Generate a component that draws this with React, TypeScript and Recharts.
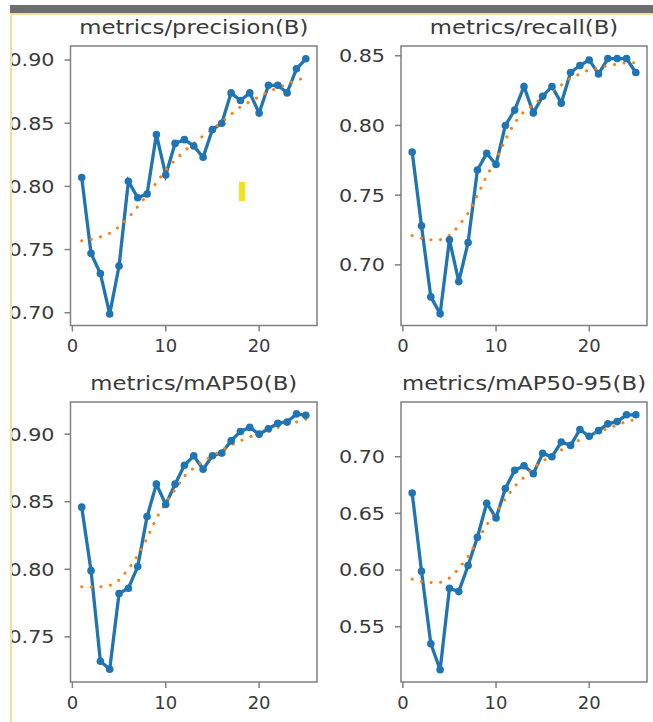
import React from 'react';
import { LineChart, Line, XAxis, YAxis, ReferenceArea } from 'recharts';

const epochs = [1, 2, 3, 4, 5, 6, 7, 8, 9, 10, 11, 12, 13, 14, 15, 16, 17, 18, 19, 20, 21, 22, 23, 24, 25];

const precision = [0.807, 0.747, 0.731, 0.699, 0.737, 0.804, 0.791, 0.794, 0.841, 0.809, 0.834, 0.837, 0.832, 0.823, 0.845, 0.85, 0.874, 0.868, 0.874, 0.858, 0.88, 0.88, 0.874, 0.893, 0.901];
const precisionSmooth = [0.757, 0.758, 0.76, 0.763, 0.768, 0.775, 0.784, 0.793, 0.803, 0.813, 0.821, 0.828, 0.834, 0.84, 0.845, 0.851, 0.857, 0.863, 0.867, 0.871, 0.875, 0.878, 0.881, 0.884, 0.886];

const recall = [0.781, 0.728, 0.677, 0.665, 0.718, 0.688, 0.716, 0.768, 0.78, 0.772, 0.8, 0.811, 0.828, 0.809, 0.821, 0.828, 0.816, 0.838, 0.843, 0.847, 0.837, 0.848, 0.848, 0.848, 0.838];
const recallSmooth = [0.721, 0.719, 0.718, 0.718, 0.721, 0.728, 0.737, 0.75, 0.764, 0.775, 0.79, 0.802, 0.81, 0.815, 0.82, 0.825, 0.829, 0.834, 0.837, 0.84, 0.841, 0.843, 0.844, 0.845, 0.845];

const map50 = [0.846, 0.799, 0.732, 0.726, 0.782, 0.786, 0.802, 0.839, 0.863, 0.848, 0.863, 0.877, 0.884, 0.874, 0.884, 0.886, 0.895, 0.902, 0.905, 0.9, 0.904, 0.908, 0.909, 0.915, 0.914];
const map50Smooth = [0.787, 0.787, 0.787, 0.788, 0.792, 0.8, 0.81, 0.823, 0.838, 0.849, 0.859, 0.869, 0.875, 0.88, 0.884, 0.888, 0.892, 0.895, 0.898, 0.9, 0.902, 0.905, 0.907, 0.909, 0.911];

const map5095 = [0.668, 0.599, 0.535, 0.512, 0.584, 0.581, 0.604, 0.629, 0.659, 0.646, 0.672, 0.688, 0.692, 0.685, 0.703, 0.7, 0.713, 0.71, 0.724, 0.718, 0.723, 0.729, 0.731, 0.737, 0.737];
const map5095Smooth = [0.592, 0.59, 0.589, 0.589, 0.593, 0.601, 0.612, 0.626, 0.64, 0.651, 0.663, 0.674, 0.682, 0.69, 0.696, 0.701, 0.706, 0.711, 0.715, 0.719, 0.722, 0.725, 0.728, 0.731, 0.733];

const xTicks = [0, 10, 20];

const FONT = "'DejaVu Sans', sans-serif";
const TEXT = '#3a3a3a';
const FRAME = '#808080';
const X_DOMAIN: [number, number] = [-0.2, 26.2];

// y labels in the screenshot are a bit stretched sideways
const YTick = ({ x, y, payload }: any) => (
  <g transform={`translate(${x},${y})`}>
    <text transform="scale(1.15 1)" textAnchor="end" dy="0.355em" fontSize={18} fill={TEXT} fontFamily={FONT}>
      {Number(payload.value).toFixed(2)}
    </text>
  </g>
);

type PanelProps = {
  title: string;
  values: number[];
  smooth: number[];
  domain: [number, number];
  yTicks: number[];
  left: number;
  top: number;
  width: number;
  height: number;
  yWidth: number;
  margin: { top: number; right: number; bottom: number; left: number };
};

function Panel({ title, values, smooth, domain, yTicks, left, top, width, height, yWidth, margin }: PanelProps) {
  const rows = epochs.map((e, i) => ({ epoch: e, value: values[i], smooth: smooth[i] }));
  const plotLeft = margin.left + yWidth;
  const plotRight = width - margin.right;
  const cx = (plotLeft + plotRight) / 2;
  const titleY = margin.top - 12;

  return (
    <div style={{ position: 'absolute', left, top, width, height }}>
      <LineChart width={width} height={height} data={rows} margin={margin}>
        <XAxis
          dataKey="epoch"
          type="number"
          domain={X_DOMAIN}
          ticks={xTicks}
          allowDataOverflow
          axisLine={false}
          tickSize={6}
          tickMargin={8}
          height={30}
          tickLine={{ stroke: FRAME, strokeWidth: 1.5 }}
          tick={{ fontSize: 18, fill: TEXT, fontFamily: FONT }}
        />
        <YAxis
          type="number"
          domain={domain}
          ticks={yTicks}
          allowDataOverflow
          width={yWidth}
          axisLine={false}
          tickSize={6}
          tickMargin={10}
          tickLine={{ stroke: FRAME, strokeWidth: 1.5 }}
          tick={<YTick />}
        />
        <ReferenceArea
          x1={X_DOMAIN[0]}
          x2={X_DOMAIN[1]}
          y1={domain[0]}
          y2={domain[1]}
          fill="none"
          fillOpacity={0}
          stroke={FRAME}
          strokeWidth={1.5}
          ifOverflow="visible"
        />
        <Line
          dataKey="value"
          stroke="#1f74b3"
          strokeWidth={3.3}
          dot={{ r: 3.8, fill: '#1f74b3', stroke: '#1f74b3', strokeWidth: 0 }}
          activeDot={false}
          isAnimationActive={false}
        />
        <Line
          dataKey="smooth"
          stroke="#ff7f0e"
          strokeWidth={3}
          strokeDasharray="0.1 9.5"
          strokeLinecap="round"
          dot={false}
          activeDot={false}
          isAnimationActive={false}
        />
      </LineChart>
      <svg width={width} height={height} style={{ position: 'absolute', left: 0, top: 0, pointerEvents: 'none' }}>
        <g transform={`translate(${cx} ${titleY}) scale(1.2 1)`}>
          <text x={0} y={0} textAnchor="middle" fontSize={19} fill={TEXT} fontFamily={FONT}>
            {title}
          </text>
        </g>
      </svg>
    </div>
  );
}

export default function App() {
  return (
    <div style={{ position: 'absolute', left: 0, top: 0, width: 653, height: 722, background: '#fff', overflow: 'hidden' }}>
      <Panel
        title="metrics/precision(B)"
        values={precision}
        smooth={precisionSmooth}
        domain={[0.6899, 0.9111]}
        yTicks={[0.7, 0.75, 0.8, 0.85, 0.9]}
        left={0}
        top={0}
        width={330}
        height={360}
        yWidth={70.5}
        margin={{ top: 46, right: 13, bottom: 4.5, left: 0 }}
      />
      <Panel
        title="metrics/recall(B)"
        values={recall}
        smooth={recallSmooth}
        domain={[0.6565, 0.857]}
        yTicks={[0.7, 0.75, 0.8, 0.85]}
        left={330}
        top={0}
        width={323}
        height={360}
        yWidth={71}
        margin={{ top: 46, right: 6, bottom: 4.5, left: 0 }}
      />
      <Panel
        title="metrics/mAP50(B)"
        values={map50}
        smooth={map50Smooth}
        domain={[0.7166, 0.9238]}
        yTicks={[0.75, 0.8, 0.85, 0.9]}
        left={0}
        top={360}
        width={330}
        height={362}
        yWidth={70.5}
        margin={{ top: 42, right: 13, bottom: 10, left: 0 }}
      />
      <Panel
        title="metrics/mAP50-95(B)"
        values={map5095}
        smooth={map5095Smooth}
        domain={[0.5012, 0.7483]}
        yTicks={[0.55, 0.6, 0.65, 0.7]}
        left={330}
        top={360}
        width={323}
        height={362}
        yWidth={71}
        margin={{ top: 42, right: 6, bottom: 10, left: 0 }}
      />

      {/* screenshot frame bits */}
      <div style={{ position: 'absolute', left: 0, top: 0, width: 10, height: 722, background: '#fff' }} />
      <div style={{ position: 'absolute', left: 10, top: 5, width: 643, height: 8, background: '#6e6e6e' }} />
      <div style={{ position: 'absolute', left: 10, top: 13, width: 643, height: 2, background: '#f0dfa0' }} />
      <div style={{ position: 'absolute', left: 10, top: 13, width: 2, height: 709, background: '#f0dfa0' }} />
      <div style={{ position: 'absolute', left: 239, top: 182, width: 6, height: 19, background: '#f6e01a' }} />
    </div>
  );
}
